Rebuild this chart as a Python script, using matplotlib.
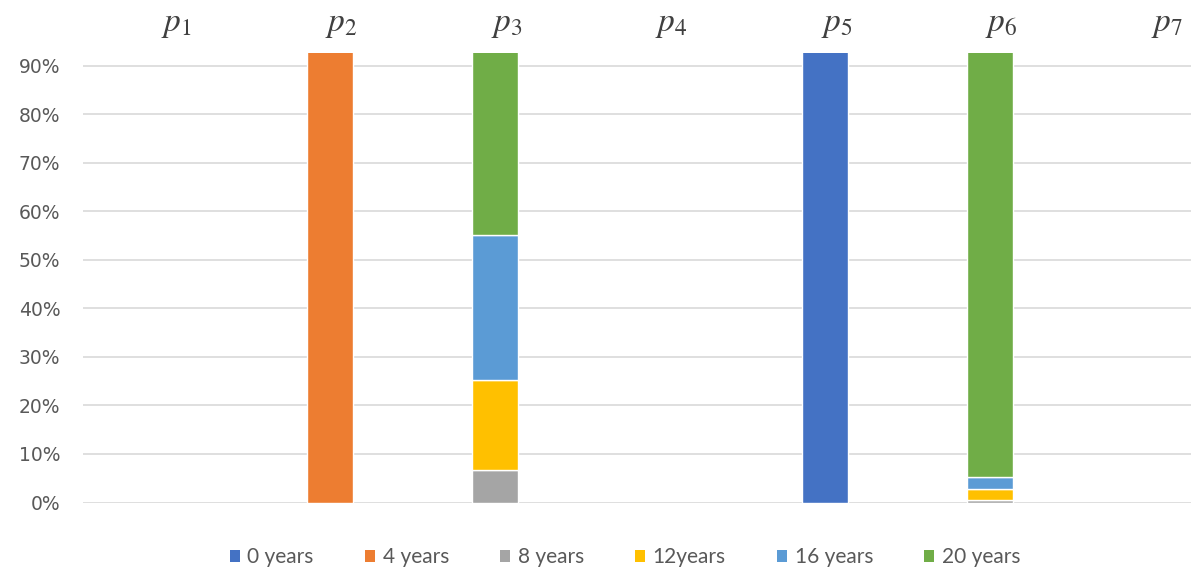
import matplotlib
matplotlib.use("Agg")
import matplotlib.pyplot as plt
from matplotlib.patches import Patch
from matplotlib.transforms import blended_transform_factory
import numpy as np

# Share of each age group per position (100% stacked)
categories = ["$p_1$", "$p_2$", "$p_3$", "$p_4$", "$p_5$", "$p_6$", "$p_7$"]
series_names = ["0 years", "4 years", "8 years", "12years", "16 years", "20 years"]
years_0 = [0.0, 0.0, 0.0, 0.0, 1.0, 0.0, 0.0]
years_4 = [0.0, 1.0, 0.0, 0.0, 0.0, 0.0, 0.0]
years_8 = [0.0, 0.0, 0.067, 0.0, 0.0, 0.006, 0.0]
years_12 = [0.0, 0.0, 0.185, 0.0, 0.0, 0.022, 0.0]
years_16 = [0.0, 0.0, 0.300, 0.0, 0.0, 0.025, 0.0]
years_20 = [0.0, 0.0, 0.448, 0.0, 0.0, 0.947, 0.0]
y_ticks = [0.0, 0.1, 0.2, 0.3, 0.4, 0.5, 0.6, 0.7, 0.8, 0.9]
y_tick_labels = ["0%", "10%", "20%", "30%", "40%", "50%", "60%", "70%", "80%", "90%"]

colors = ["#4472C4", "#ED7D31", "#A5A5A5", "#FFC000", "#5B9BD5", "#70AD47"]
series = [years_0, years_4, years_8, years_12, years_16, years_20]

plt.rcParams["mathtext.fontset"] = "stix"

fig = plt.figure(figsize=(11.91, 5.71), dpi=100)
ax = fig.add_axes([82.5 / 1191, 68.5 / 571, 1155 / 1191, 449.2 / 571])

x = np.arange(len(categories))
bottom = np.zeros(len(categories))
for vals, col in zip(series, colors):
    v = np.array(vals)
    # no white outline on empty segments
    lw = np.where(v > 0, 1.0, 0.0)
    ax.bar(x, v, bottom=bottom, width=0.28, color=col, edgecolor="white",
           linewidth=lw, zorder=3)
    bottom += v

ax.set_xlim(-0.5, 6.5)
ax.set_ylim(0, 0.926)
ax.set_yticks(y_ticks)
ax.set_yticklabels(y_tick_labels, family="DejaVu Sans", fontsize=13.5, color="#595959")
ax.tick_params(axis="y", length=0, pad=16)
ax.grid(axis="y", color="#D9D9D9", linewidth=1.2, zorder=0)
ax.set_axisbelow(True)
ax.set_xticks([])

# category names above the columns
trans = blended_transform_factory(ax.transData, fig.transFigure)
for xi, name in zip(x, categories):
    ax.text(xi + 0.07, 1 - 24 / 571, name, transform=trans, ha="center",
            va="center", fontsize=24, color="#404040")

for s in ax.spines.values():
    s.set_visible(False)

handles = [Patch(facecolor=c, edgecolor="none") for c in colors]
fig.legend(handles, series_names, loc="center", ncol=6,
           bbox_to_anchor=(625 / 1191, 1 - 557 / 571), frameon=False,
           prop={"family": "Lato", "size": 15}, labelcolor="#595959",
           handlelength=0.5, handleheight=0.5, handletextpad=0.35,
           columnspacing=2.45)

fig.savefig("out.png", dpi=100, facecolor="white")
